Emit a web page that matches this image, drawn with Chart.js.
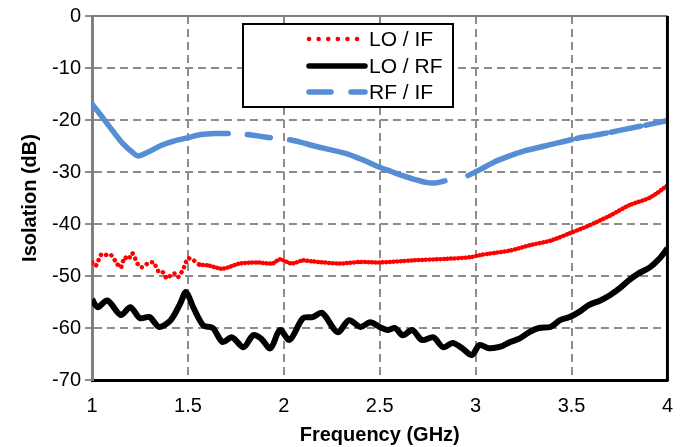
<!DOCTYPE html>
<html>
<head>
<meta charset="utf-8">
<script src="https://cdn.jsdelivr.net/npm/chart.js@4"></script>
<style>
  body { margin: 0; background: #fff; }
  #wrap { width: 687px; height: 447px; position: relative; }
</style>
</head>
<body>
<div id="wrap"><canvas id="chart" width="687" height="447"></canvas></div>
<script>
// LO / IF isolation (red, dotted)
const loIfFreq = [1.00, 1.02, 1.05, 1.08, 1.10, 1.13, 1.15, 1.17, 1.19, 1.21, 1.24, 1.26, 1.29, 1.32,
  1.35, 1.37, 1.39, 1.41, 1.43, 1.45, 1.48, 1.50, 1.53, 1.56, 1.61, 1.68, 1.77, 1.86, 1.94, 1.98,
  2.04, 2.10, 2.15, 2.29, 2.40, 2.50, 2.67, 2.85, 2.97, 3.02, 3.07, 3.18, 3.28, 3.39, 3.49, 3.59,
  3.70, 3.80, 3.91, 4.00];
const loIfDb = [-47.4, -48.0, -45.8, -46.0, -46.0, -47.6, -48.4, -46.4, -46.8, -45.6, -47.8, -48.3,
  -47.6, -47.4, -49.3, -49.3, -50.5, -49.9, -49.5, -50.2, -48.3, -46.6, -47.0, -47.8, -48.0, -48.6,
  -47.6, -47.4, -47.6, -46.8, -47.6, -47.0, -47.2, -47.6, -47.3, -47.4, -47.0, -46.7, -46.4, -46.0,
  -45.7, -45.1, -44.1, -43.2, -41.8, -40.3, -38.4, -36.4, -34.9, -32.6];

// LO / RF isolation (black, solid)
const loRfFreq = [1.00, 1.03, 1.08, 1.15, 1.20, 1.25, 1.30, 1.35, 1.41, 1.46, 1.49, 1.53, 1.58, 1.63,
  1.68, 1.73, 1.79, 1.84, 1.88, 1.93, 1.98, 2.03, 2.10, 2.15, 2.20, 2.28, 2.34, 2.40, 2.45, 2.50,
  2.54, 2.58, 2.62, 2.67, 2.72, 2.78, 2.83, 2.88, 2.93, 2.98, 3.02, 3.07, 3.13, 3.18, 3.23, 3.28,
  3.33, 3.39, 3.44, 3.49, 3.54, 3.59, 3.65, 3.70, 3.75, 3.80, 3.85, 3.91, 3.96, 4.00];
const loRfDb = [-54.5, -56.0, -54.7, -57.5, -56.0, -58.1, -57.9, -59.8, -58.5, -55.3, -53.1, -56.2,
  -59.5, -60.0, -62.7, -61.8, -63.7, -61.4, -62.0, -63.9, -60.4, -62.3, -58.1, -57.9, -57.1, -60.8,
  -58.5, -59.8, -58.9, -59.8, -60.4, -60.0, -61.4, -60.4, -62.3, -61.8, -63.7, -62.9, -63.9, -65.2,
  -63.3, -63.9, -63.6, -62.7, -62.0, -60.8, -60.0, -59.8, -58.5, -57.9, -56.9, -55.6, -54.7, -53.7,
  -52.4, -50.8, -49.5, -48.3, -46.6, -44.7];

// RF / IF isolation (blue, long dash) - null marks the dash gaps
const rfIfFreq = [1.00, 1.04, 1.10, 1.16, 1.21, 1.24, 1.29, 1.36, 1.43, 1.50, 1.57, 1.64, 1.71, 1.76,
  1.81, 1.87, 1.93, 1.98, 2.03, 2.09, 2.15, 2.24, 2.33, 2.42, 2.50, 2.56, 2.62, 2.68, 2.74, 2.79,
  2.84, 2.90, 2.96, 3.02, 3.09, 3.17, 3.26, 3.35, 3.44, 3.52, 3.61, 3.70, 3.79, 3.90, 4.00];
const rfIfDb = [-16.9, -18.8, -21.7, -24.5, -26.2, -26.9, -26.2, -24.9, -24.0, -23.4, -22.8, -22.6,
  -22.6, null, -22.8, -23.1, -23.4, null, -23.8, -24.3, -24.9, -25.7, -26.5, -27.8, -29.1, -29.9,
  -30.7, -31.4, -32.0, -32.1, -31.7, null, -30.7, -29.6, -28.2, -27.0, -25.9, -25.1, -24.3, -23.6,
  -23.0, -22.4, -21.7, -20.9, -20.1];

const seriesNames = ['LO / IF', 'LO / RF', 'RF / IF'];

const toPoints = (xs, ys) => xs.map((x, i) => ({x: x, y: ys[i]}));

const FONT = '"Liberation Sans", Arial, sans-serif';

// framed legend box like the original
const legendBox = {
    id: 'legendBox',
    afterDraw(chart) {
        const ctx = chart.ctx;
        ctx.save();
        ctx.fillStyle = '#fff';
        ctx.fillRect(243, 24, 210, 83);
        ctx.strokeStyle = '#000';
        ctx.lineWidth = 2;
        ctx.strokeRect(243, 24, 210, 83);
        const rows = [39, 66, 92];
        const dashes = [[0.1, 9.5], [], [22, 20]];
        const widths = [4.5, 5.5, 5.5];
        chart.data.datasets.forEach((ds, i) => {
            const y = rows[i];
            ctx.beginPath();
            ctx.setLineDash(dashes[i]);
            ctx.lineCap = 'round';
            ctx.strokeStyle = ds.borderColor;
            ctx.lineWidth = widths[i];
            ctx.moveTo(309, y);
            ctx.lineTo(365, y);
            ctx.stroke();
            ctx.setLineDash([]);
            ctx.fillStyle = '#000';
            ctx.font = '21px ' + FONT;
            ctx.textBaseline = 'middle';
            ctx.fillText(ds.label, 369, y + 1);
        });
        ctx.restore();
    }
};

// top edge (grey) and right edge (black) of the plot frame
const frameEdges = {
    id: 'frameEdges',
    afterDatasetsDraw(chart) {
        const {ctx, chartArea} = chart;
        ctx.save();
        ctx.strokeStyle = '#7f7f7f';
        ctx.lineWidth = 2;
        ctx.beginPath();
        ctx.moveTo(chartArea.left, chartArea.top);
        ctx.lineTo(chartArea.right, chartArea.top);
        ctx.stroke();
        ctx.strokeStyle = '#000';
        ctx.lineWidth = 3;
        ctx.beginPath();
        ctx.moveTo(chartArea.right, chartArea.top);
        ctx.lineTo(chartArea.right, chartArea.bottom + 1.5);
        ctx.stroke();
        ctx.restore();
    }
};

const ctx = document.getElementById('chart').getContext('2d');
new Chart(ctx, {
    type: 'line',
    data: {
        datasets: [
            {
                label: seriesNames[0],
                data: toPoints(loIfFreq, loIfDb),
                borderColor: '#ff0000',
                borderWidth: 4.5,
                borderDash: [0.1, 4],
                borderCapStyle: 'round',
                pointRadius: 0,
                tension: 0.25,
                segment: {
                    borderDash: c => c.p0.parsed.x < 1.55 ? [0.1, 5.5] : [0.1, 3.5]
                }
            },
            {
                label: seriesNames[1],
                data: toPoints(loRfFreq, loRfDb),
                borderColor: '#000000',
                borderWidth: 6,
                borderJoinStyle: 'round',
                pointRadius: 0,
                tension: 0.3
            },
            {
                label: seriesNames[2],
                data: toPoints(rfIfFreq, rfIfDb),
                borderColor: '#558ed5',
                borderWidth: 5.5,
                borderCapStyle: 'round',
                borderJoinStyle: 'round',
                pointRadius: 0,
                spanGaps: false,
                tension: 0.3,
                segment: {
                    borderDash: c => c.p0.parsed.x >= 3.3 ? [30, 5] : undefined
                }
            }
        ]
    },
    options: {
        responsive: false,
        animation: false,
        layout: {padding: {top: 15, right: 18, bottom: 0, left: 0}},
        plugins: {
            legend: {display: false},
            tooltip: {enabled: false}
        },
        scales: {
            x: {
                type: 'linear',
                min: 1,
                max: 4,
                ticks: {
                    stepSize: 0.5,
                    color: '#000',
                    padding: 14,
                    maxRotation: 0,
                    font: {family: FONT, size: 20},
                    callback: v => String(v)
                },
                grid: {color: '#8c8c8c', lineWidth: 2, drawTicks: false},
                border: {color: '#000', width: 3, dash: [8, 5]},
                title: {
                    display: true,
                    text: 'Frequency (GHz)',
                    color: '#000',
                    padding: {top: 0, bottom: 0},
                    font: {family: FONT, size: 20, weight: 'bold'}
                },
                afterFit: s => { s.height = 67; }
            },
            y: {
                min: -70,
                max: 0,
                ticks: {
                    stepSize: 10,
                    color: '#000',
                    padding: 4,
                    font: {family: FONT, size: 20}
                },
                grid: {color: '#8c8c8c', lineWidth: 2, tickLength: 7, tickColor: '#8c8c8c', tickWidth: 2, tickBorderDash: []},
                border: {color: '#7f7f7f', width: 3, dash: [8, 5]},
                title: {
                    display: true,
                    text: 'Isolation (dB)',
                    color: '#000',
                    padding: {top: 18, bottom: 0},
                    font: {family: FONT, size: 20, weight: 'bold'}
                },
                afterFit: s => { s.width = 92; }
            }
        }
    },
    plugins: [frameEdges, legendBox]
});
</script>
</body>
</html>
